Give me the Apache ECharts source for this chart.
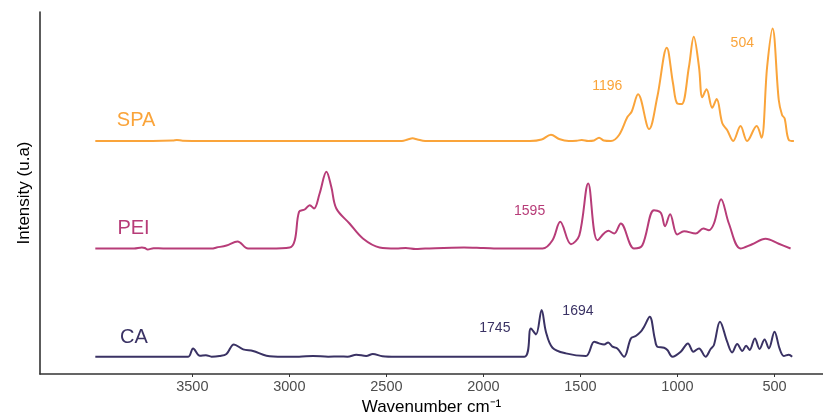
<!DOCTYPE html>
<html>
<head>
<meta charset="utf-8">
<script src="https://cdn.jsdelivr.net/npm/echarts@6/dist/echarts.min.js"></script>
<style>
  html, body { margin: 0; padding: 0; background: #fff; }
  #chart { width: 823px; height: 415px; }
</style>
</head>
<body>
<div id="chart"></div>
<script>
// FTIR spectra, stacked with a vertical offset (arbitrary units)
const tickLabels = [3500, 3000, 2500, 2000, 1500, 1000, 500];

const spaWn = [4000, 3800, 3600, 3580, 3550, 3300, 3000, 2700, 2420, 2390, 2365, 2340, 2300, 2000, 1760, 1700, 1652, 1610, 1560, 1520, 1493, 1460, 1430, 1404, 1380, 1343, 1301, 1258, 1237, 1203, 1146, 1104, 1055, 1023, 1001, 978, 941, 916, 889, 872, 850, 821, 798, 769, 744, 713, 675, 641, 592, 567, 538, 510, 478, 461, 448, 426, 400];
const spaHt = [0, 0, 0.5, 1, 0.3, 0, 0, 0, 0, 1.5, 2.7, 1.5, 0, 0, 0, 1.5, 6.3, 2, 0, 0.3, 1, 0, 0.5, 3.3, 0.5, 0, 6, 24, 29, 46.7, 12, 44, 93.3, 57.7, 37.5, 37, 74, 104.3, 74, 43.7, 51.7, 33.3, 42, 17.7, 11, 0, 15, 0, 15, 3.3, 74, 112.5, 41, 26, 22.7, 1, 0];

const peiWn = [4000, 3900, 3800, 3760, 3745, 3730, 3700, 3650, 3500, 3400, 3375, 3324, 3267, 3213, 3100, 2998, 2972, 2950, 2921, 2895, 2873, 2844, 2809, 2784, 2758, 2690, 2621, 2535, 2450, 2400, 2350, 2300, 2100, 2000, 1900, 1800, 1695, 1644, 1604, 1549, 1506, 1460, 1412, 1356, 1326, 1292, 1224, 1181, 1121, 1086, 1064, 1038, 1001, 966, 906, 867, 838, 812, 775, 735, 675, 615, 546, 478, 417];
const peiHt = [0, 0, 0, 1, 0.5, -1, 0.3, 0, 0, 0, 1, 3, 7, 0, 0, 1, 8.3, 36.7, 39, 43.3, 40, 55, 76.7, 61.7, 40, 25, 10, 1, 0, 0.5, -0.5, 0, 1, 0.5, 0, 0, 0, 8.3, 26.7, 4.3, 13, 65, 8.3, 17.7, 15, 25, 0, 3.3, 38.3, 35.7, 22.3, 34.3, 14, 17.3, 15, 20, 18.3, 25, 49.3, 25, 0, 4.3, 9.7, 4.7, 0];

const caWn = [4000, 3600, 3521, 3496, 3461, 3430, 3401, 3360, 3324, 3286, 3238, 3187, 3118, 3033, 2950, 2878, 2800, 2740, 2700, 2655, 2604, 2570, 2520, 2450, 2000, 1789, 1755, 1729, 1700, 1678, 1644, 1575, 1472, 1429, 1404, 1378, 1357, 1335, 1310, 1275, 1240, 1215, 1189, 1172, 1143, 1117, 1104, 1069, 1052, 1026, 983, 946, 918, 889, 855, 829, 812, 781, 744, 718, 692, 666, 646, 628, 601, 577, 551, 529, 500, 474, 452, 426, 409];
const caHt = [0, 0, 0, 8.3, 1, 1.5, 0, 0.7, 2.7, 12.3, 7.3, 5.7, 1, 0, 0, 0.7, 0, 0.3, 0, 2, 0.7, 2.7, 0.5, 0, 0, 0, 28.3, 22.3, 46.7, 25, 9, 3.3, 0.7, 15, 13.3, 12.3, 14.3, 10, 8.3, 0, 18.3, 20.7, 25, 30, 40, 18.3, 10, 9, 6.7, 0, 5, 13.3, 5, 8.3, 0, 7.7, 11.7, 35, 15, 4.3, 12.7, 5.7, 11, 6.7, 18.3, 7.7, 17.3, 8.3, 25, 8.3, 0.7, 2, 0];

const names = ["SPA", "PEI", "CA"];
const offsets = [233, 125.5, 17.3];
const colors = ["#FAA43A", "#B73C78", "#3A3264"];

// annotations: [text, wavenumber, y, fontSize]
const spaNotes = [["SPA", 3790, 254, 20], ["1196", 1362, 288, 14], ["504", 666, 331, 14]];
const peiNotes = [["PEI", 3803, 146, 20], ["1595", 1762, 163, 14]];
const caNotes = [["CA", 3801, 37, 20], ["1745", 1941, 46, 14], ["1694", 1513, 63, 14]];

const wns = [spaWn, peiWn, caWn];
const hts = [spaHt, peiHt, caHt];
const notes = [spaNotes, peiNotes, caNotes];

const chart = echarts.init(document.getElementById("chart"), null, { renderer: "canvas" });
const font = "'Liberation Sans', Arial, sans-serif";

chart.setOption({
  animation: false,
  grid: { left: 40, right: 0, top: 12, bottom: 41, outerBoundsMode: "none", containLabel: false },
  xAxis: {
    type: "value",
    inverse: true,
    min: 250,
    max: 4285,
    name: "Wavenumber cm⁻¹",
    nameLocation: "middle",
    nameGap: 22,
    nameTextStyle: { color: "#000", fontSize: 17, fontFamily: font },
    axisLine: { lineStyle: { color: "#333", width: 1.6 } },
    axisTick: { show: true, length: 3, lineStyle: { color: "#333" }, customValues: tickLabels },
    axisLabel: { color: "#4D4D4D", fontSize: 14.5, fontFamily: font, margin: 5, customValues: tickLabels, formatter: v => String(v) },
    splitLine: { show: false }
  },
  yAxis: {
    type: "value",
    min: 0,
    max: 362,
    name: "Intensity (u.a)",
    nameLocation: "middle",
    nameGap: 7,
    nameTextStyle: { color: "#000", fontSize: 17, fontFamily: font },
    axisLine: { show: true, lineStyle: { color: "#333", width: 1.6 } },
    axisTick: { show: false },
    axisLabel: { show: false },
    splitLine: { show: false }
  },
  series: names.map((name, i) => ({
    name,
    type: "line",
    smooth: 0.35,
    showSymbol: false,
    lineStyle: { color: colors[i], width: 2 },
    data: wns[i].map((w, j) => [w, offsets[i] + hts[i][j]]),
    markPoint: {
      symbol: "circle",
      symbolSize: 0,
      silent: true,
      label: { show: true, position: "inside", color: colors[i], fontFamily: font },
      data: notes[i].map(n => ({
        coord: [n[1], n[2]],
        value: n[0],
        label: { formatter: n[0], fontSize: n[3] }
      }))
    }
  }))
});
</script>
</body>
</html>
